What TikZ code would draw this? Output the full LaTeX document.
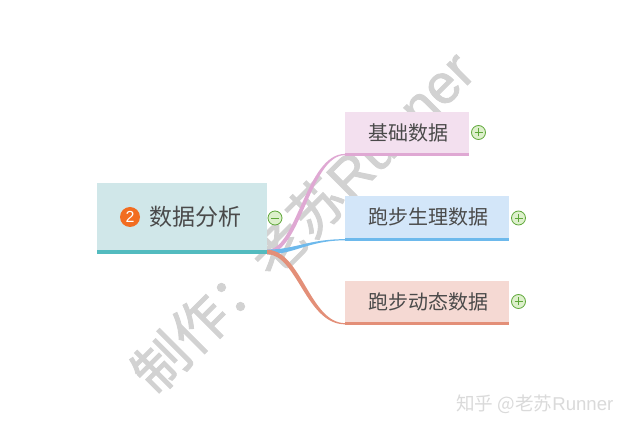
\documentclass[tikz,border=0pt]{standalone}
\usepackage{fontspec}
\setmainfont{Noto Sans CJK SC}
\newfontfamily\latinf{Liberation Sans}
\newfontfamily\markcjk[FakeBold=1.6]{Noto Sans CJK SC}
\newfontfamily\marklat[FakeBold=1.6]{Liberation Sans}
\newcommand{\fsz}[1]{\fontsize{#1}{#1}\selectfont}
\definecolor{ink}{HTML}{4A4A4A}
\definecolor{rootfill}{HTML}{D0E7E9}
\definecolor{rootbar}{HTML}{53BBBF}
\definecolor{afill}{HTML}{F3E0EF}
\definecolor{abar}{HTML}{DFA8D3}
\definecolor{bfill}{HTML}{D3E6F9}
\definecolor{bbar}{HTML}{6DB9EC}
\definecolor{cfill}{HTML}{F5D9D3}
\definecolor{cbar}{HTML}{E38F78}
\definecolor{wm}{HTML}{D2D2D2}
\definecolor{wmb}{HTML}{DADADA}
\definecolor{togline}{HTML}{5FA83A}
\definecolor{togfill}{HTML}{DDF0CC}
\definecolor{badgeo}{HTML}{F26D21}
\tikzset{
  box/.style={anchor=north west,inner sep=0pt,outer sep=0pt,text=ink,font=\fsz{20}},
  barbox/.style={anchor=north west,inner sep=0pt,outer sep=0pt,minimum height=3pt},
  tog/.style={circle,draw=togline,fill=togfill,line width=0.8pt,minimum size=14pt,inner sep=0pt,outer sep=0pt},
  plussign/.style={tog,path picture={\draw[togline,line width=0.8pt]
     ([xshift=-4pt]path picture bounding box.center)--([xshift=4pt]path picture bounding box.center)
     ([yshift=-4pt]path picture bounding box.center)--([yshift=4pt]path picture bounding box.center);}},
  minussign/.style={tog,path picture={\draw[togline,line width=0.8pt]
     ([xshift=-4pt]path picture bounding box.center)--([xshift=4pt]path picture bounding box.center);}},
}
\usetikzlibrary{calc}
% from, to, colour, ctrl out, ctrl in, spread of upper edge, half width at start
\newcommand{\taper}[7]{%
  \path let \p1=(#1), \p2=(#2) in
    coordinate (ca) at (\x1,\y1+#7) coordinate (cb) at (\x1,\y1-#7)
    coordinate (cc) at (\x2,\y2+0.6pt) coordinate (cd) at (\x2,\y2-0.6pt);
  \fill[#3] (ca) .. controls +(#4+#6,0) and +(-#5+#6,0) .. (cc) -- (cd) .. controls +(-#5-#6,0) and +(#4-#6,0) .. (cb) -- cycle;
}
\begin{document}
\begin{tikzpicture}[x=1pt,y=-1pt]
\useasboundingbox[fill=white] (0,0) rectangle (633,430);
% watermarks
\node[wm,font=\fsz{55},rotate=45,inner sep=0pt] (mark) at (302,221) {\markcjk 制作：老苏{\marklat Runner}};
\node[wmb,font=\fsz{18.6},inner sep=0pt,anchor=west] (mark2) at (456,404) {知乎 @老苏{\latinf Runner}};
% boxes
\node[box,fill=rootfill,minimum width=170pt,minimum height=67pt] (root) at (97,183) {};
\node[barbox,fill=rootbar,minimum width=170pt,minimum height=4pt] (rootbar) at (root.south west) {};
\node[circle,fill=badgeo,inner sep=0pt,minimum size=20pt,text=white,font=\latinf\fsz{16}] (badge) at (130,217) {2};
\node[text=ink,font=\fsz{23},inner sep=0pt] (rootlabel) at (195,217) {数据分析};
\node[box,fill=afill,minimum width=124pt,minimum height=41pt] (a) at (345,112) {\hspace*{2pt}基础数据};
\node[barbox,fill=abar,minimum width=124pt] (abarn) at (a.south west) {};
\node[box,fill=bfill,minimum width=164pt,minimum height=42pt] (b) at (345,196) {\hspace*{2pt}跑步生理数据};
\node[barbox,fill=bbar,minimum width=164pt,minimum height=3.5pt] (bbarn) at (b.south west) {};
\node[box,fill=cfill,minimum width=164pt,minimum height=41pt] (c) at (345,281) {\hspace*{2pt}跑步动态数据};
\node[barbox,fill=cbar,minimum width=164pt,minimum height=3.5pt] (cbarn) at (c.south west) {};
% toggles
\node[minussign] (t0) at (275,218) {};
\node[plussign] (t1) at (478.5,132.5) {};
\node[plussign] (t2) at (518.5,218) {};
\node[plussign] (t3) at (518.5,301.5) {};
% connectors
\taper{rootbar.east}{abarn.west}{abar}{32pt}{37pt}{-2pt}{2pt}
\taper{rootbar.east}{bbarn.west}{bbar}{28pt}{37pt}{0pt}{2.4pt}
\taper{rootbar.east}{cbarn.west}{cbar}{32pt}{37pt}{2pt}{2.2pt}
\end{tikzpicture}
\end{document}
